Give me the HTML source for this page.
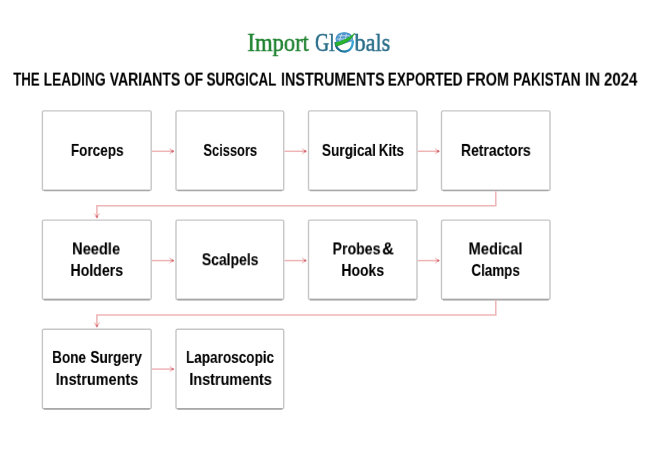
<!DOCTYPE html>
<html><head><meta charset="utf-8">
<style>
html,body{margin:0;padding:0;background:#fff;width:650px;height:450px;overflow:hidden}
body{position:relative;font-family:"Liberation Sans",sans-serif}
svg{position:absolute;left:0;top:0}
.t{position:absolute;left:0;top:0;white-space:nowrap;transform-origin:0 0;will-change:transform}
</style></head><body>
<svg width="650" height="450" viewBox="0 0 650 450">
<rect x="42.4" y="110.9" width="108.80" height="79.50" rx="1.5" fill="#fff" stroke="#c6c6c6" stroke-width="1.4"/>
<path d="M43.90 190.50 H149.70" fill="none" stroke="#a8a8a8" stroke-width="1.7"/>
<rect x="176.0" y="110.9" width="107.70" height="79.50" rx="1.5" fill="#fff" stroke="#c6c6c6" stroke-width="1.4"/>
<path d="M177.50 190.50 H282.20" fill="none" stroke="#a8a8a8" stroke-width="1.7"/>
<rect x="308.5" y="110.9" width="108.50" height="79.50" rx="1.5" fill="#fff" stroke="#c6c6c6" stroke-width="1.4"/>
<path d="M310.00 190.50 H415.50" fill="none" stroke="#a8a8a8" stroke-width="1.7"/>
<rect x="441.5" y="110.9" width="108.50" height="79.50" rx="1.5" fill="#fff" stroke="#c6c6c6" stroke-width="1.4"/>
<path d="M443.00 190.50 H548.50" fill="none" stroke="#a8a8a8" stroke-width="1.7"/>
<rect x="42.4" y="220.1" width="108.80" height="79.40" rx="1.5" fill="#fff" stroke="#c6c6c6" stroke-width="1.4"/>
<path d="M43.90 299.60 H149.70" fill="none" stroke="#a8a8a8" stroke-width="1.7"/>
<rect x="176.0" y="220.1" width="107.70" height="79.40" rx="1.5" fill="#fff" stroke="#c6c6c6" stroke-width="1.4"/>
<path d="M177.50 299.60 H282.20" fill="none" stroke="#a8a8a8" stroke-width="1.7"/>
<rect x="308.5" y="220.1" width="108.50" height="79.40" rx="1.5" fill="#fff" stroke="#c6c6c6" stroke-width="1.4"/>
<path d="M310.00 299.60 H415.50" fill="none" stroke="#a8a8a8" stroke-width="1.7"/>
<rect x="441.5" y="220.1" width="108.50" height="79.40" rx="1.5" fill="#fff" stroke="#c6c6c6" stroke-width="1.4"/>
<path d="M443.00 299.60 H548.50" fill="none" stroke="#a8a8a8" stroke-width="1.7"/>
<rect x="42.4" y="329.2" width="108.80" height="79.50" rx="1.5" fill="#fff" stroke="#c6c6c6" stroke-width="1.4"/>
<path d="M43.90 408.80 H149.70" fill="none" stroke="#a8a8a8" stroke-width="1.7"/>
<rect x="176.0" y="329.2" width="107.70" height="79.50" rx="1.5" fill="#fff" stroke="#c6c6c6" stroke-width="1.4"/>
<path d="M177.50 408.80 H282.20" fill="none" stroke="#a8a8a8" stroke-width="1.7"/>
</svg>
<svg width="650" height="450" viewBox="0 0 650 450">
<path d="M152.00 151.30 H173.40" stroke="#efb4b6" stroke-width="1.5" fill="none"/>
<path d="M169.20 147.80 L174.40 151.30 L169.20 154.80 L170.60 151.30 Z" fill="#f2c2c4"/>
<circle cx="172.60" cy="151.30" r="1.2" fill="#d87078"/>
<path d="M284.50 151.30 H305.90" stroke="#efb4b6" stroke-width="1.5" fill="none"/>
<path d="M301.70 147.80 L306.90 151.30 L301.70 154.80 L303.10 151.30 Z" fill="#f2c2c4"/>
<circle cx="305.10" cy="151.30" r="1.2" fill="#d87078"/>
<path d="M417.80 151.30 H438.90" stroke="#efb4b6" stroke-width="1.5" fill="none"/>
<path d="M434.70 147.80 L439.90 151.30 L434.70 154.80 L436.10 151.30 Z" fill="#f2c2c4"/>
<circle cx="438.10" cy="151.30" r="1.2" fill="#d87078"/>
<path d="M152.00 260.60 H173.40" stroke="#efb4b6" stroke-width="1.5" fill="none"/>
<path d="M169.20 257.10 L174.40 260.60 L169.20 264.10 L170.60 260.60 Z" fill="#f2c2c4"/>
<circle cx="172.60" cy="260.60" r="1.2" fill="#d87078"/>
<path d="M284.50 260.60 H305.90" stroke="#efb4b6" stroke-width="1.5" fill="none"/>
<path d="M301.70 257.10 L306.90 260.60 L301.70 264.10 L303.10 260.60 Z" fill="#f2c2c4"/>
<circle cx="305.10" cy="260.60" r="1.2" fill="#d87078"/>
<path d="M417.80 260.60 H438.90" stroke="#efb4b6" stroke-width="1.5" fill="none"/>
<path d="M434.70 257.10 L439.90 260.60 L434.70 264.10 L436.10 260.60 Z" fill="#f2c2c4"/>
<circle cx="438.10" cy="260.60" r="1.2" fill="#d87078"/>
<path d="M152.00 369.10 H173.40" stroke="#efb4b6" stroke-width="1.5" fill="none"/>
<path d="M169.20 365.60 L174.40 369.10 L169.20 372.60 L170.60 369.10 Z" fill="#f2c2c4"/>
<circle cx="172.60" cy="369.10" r="1.2" fill="#d87078"/>
<path d="M495.8 191.20 V205.8 H96.9 V218.30" stroke="#efb4b6" stroke-width="1.5" fill="none"/>
<path d="M93.40 213.10 L96.9 218.30 L100.40 213.10 L96.90 214.50 Z" fill="#f2c2c4"/>
<circle cx="96.9" cy="216.50" r="1.2" fill="#d87078"/>
<path d="M495.8 300.30 V314.9 H96.9 V327.40" stroke="#efb4b6" stroke-width="1.5" fill="none"/>
<path d="M93.40 322.20 L96.9 327.40 L100.40 322.20 L96.90 323.60 Z" fill="#f2c2c4"/>
<circle cx="96.9" cy="325.60" r="1.2" fill="#d87078"/>
</svg>
<svg width="650" height="450" viewBox="0 0 650 450">
  <defs><linearGradient id="rg" x1="0" y1="0" x2="1" y2="0"><stop offset="0" stop-color="#1b6688"/><stop offset="0.55" stop-color="#1f7aa0"/><stop offset="1" stop-color="#3aa8dc"/></linearGradient></defs>
  <path d="M335.8 43 C335.5 36 339 32.6 344.3 32.6 C349.6 32.6 352.8 36 352.8 41 L336.5 46 Z" fill="#5598cc"/>
  <g stroke="#e4f0fa" stroke-width="0.7" fill="none">
    <path d="M338.5 35.8 H350"/><path d="M336.8 39 H352.3"/>
    <path d="M342 33.2 Q339.3 38 339.6 44"/><path d="M346.6 33.2 Q345.6 37 345.2 41.5"/>
  </g>
  <path d="M335.9 39.5 C336.5 35 339.5 32.8 344.3 32.8 C349 32.8 352 35.3 352.7 39.5" fill="none" stroke="#4a96cc" stroke-width="1.3"/>
  <path d="M335.7 42 C335.5 48 339.3 51.6 344.3 51.6 C349.3 51.6 352.9 48 352.9 40.5" fill="none" stroke="url(#rg)" stroke-width="2.3"/>
  <path d="M335.2 42.5 C341 41 348 38.5 354.5 32.9 C352.6 38.3 347 43.6 335.6 46.1 Z" fill="#2bb52a"/>
  <path d="M335.6 46.1 C347 43.6 352.6 38.3 354.5 32.9" fill="none" stroke="#178f1a" stroke-width="0.6"/>
</svg>
<div class="t" style="font-family:'Liberation Serif',serif;font-size:26px;line-height:30px;color:#1f8230;-webkit-text-stroke:0.5px #1f8230;transform:translate(247.43px,27.90px) scaleX(0.8671)">Import</div>
<div class="t" style="font-family:'Liberation Serif',serif;font-size:26px;line-height:30px;color:#286c88;-webkit-text-stroke:0.5px #286c88;transform:translate(314.94px,27.90px) scaleX(0.7560)">Gl</div>
<div class="t" style="font-family:'Liberation Serif',serif;font-size:26px;line-height:30px;color:#286c88;-webkit-text-stroke:0.5px #286c88;transform:translate(354.50px,27.90px) scaleX(0.8537)">bals</div>
<div class="t" style="font-family:'Liberation Sans',sans-serif;font-weight:bold;font-size:18px;line-height:20px;color:#000;-webkit-text-stroke:0.05px #000;transform:translate(13.30px,69.60px) scaleX(0.7286)">THE</div>
<div class="t" style="font-family:'Liberation Sans',sans-serif;font-weight:bold;font-size:18px;line-height:20px;color:#000;-webkit-text-stroke:0.05px #000;transform:translate(43.64px,69.60px) scaleX(0.7646)">LEADING</div>
<div class="t" style="font-family:'Liberation Sans',sans-serif;font-weight:bold;font-size:18px;line-height:20px;color:#000;-webkit-text-stroke:0.05px #000;transform:translate(109.70px,69.60px) scaleX(0.7767)">VARIANTS</div>
<div class="t" style="font-family:'Liberation Sans',sans-serif;font-weight:bold;font-size:18px;line-height:20px;color:#000;-webkit-text-stroke:0.05px #000;transform:translate(184.03px,69.60px) scaleX(0.7652)">OF</div>
<div class="t" style="font-family:'Liberation Sans',sans-serif;font-weight:bold;font-size:18px;line-height:20px;color:#000;-webkit-text-stroke:0.05px #000;transform:translate(206.56px,69.60px) scaleX(0.7419)">SURGICAL</div>
<div class="t" style="font-family:'Liberation Sans',sans-serif;font-weight:bold;font-size:18px;line-height:20px;color:#000;-webkit-text-stroke:0.05px #000;transform:translate(281.00px,69.60px) scaleX(0.7969)">INSTRUMENTS</div>
<div class="t" style="font-family:'Liberation Sans',sans-serif;font-weight:bold;font-size:18px;line-height:20px;color:#000;-webkit-text-stroke:0.05px #000;transform:translate(387.75px,69.60px) scaleX(0.7546)">EXPORTED</div>
<div class="t" style="font-family:'Liberation Sans',sans-serif;font-weight:bold;font-size:18px;line-height:20px;color:#000;-webkit-text-stroke:0.05px #000;transform:translate(466.40px,69.60px) scaleX(0.8039)">FROM</div>
<div class="t" style="font-family:'Liberation Sans',sans-serif;font-weight:bold;font-size:18px;line-height:20px;color:#000;-webkit-text-stroke:0.05px #000;transform:translate(513.04px,69.60px) scaleX(0.7563)">PAKISTAN</div>
<div class="t" style="font-family:'Liberation Sans',sans-serif;font-weight:bold;font-size:18px;line-height:20px;color:#000;-webkit-text-stroke:0.05px #000;transform:translate(584.96px,69.60px) scaleX(0.8438)">IN</div>
<div class="t" style="font-family:'Liberation Sans',sans-serif;font-weight:bold;font-size:18px;line-height:20px;color:#000;-webkit-text-stroke:0.05px #000;transform:translate(603.97px,69.60px) scaleX(0.8333)">2024</div>
<div class="t" style="font-family:'Liberation Sans',sans-serif;font-weight:bold;font-size:16.5px;line-height:20px;color:#000;-webkit-text-stroke:0.08px #000;transform:translate(70.88px,139.90px) scaleX(0.8206)">Forceps</div>
<div class="t" style="font-family:'Liberation Sans',sans-serif;font-weight:bold;font-size:16.5px;line-height:20px;color:#000;-webkit-text-stroke:0.08px #000;transform:translate(203.42px,139.90px) scaleX(0.7806)">Scissors</div>
<div class="t" style="font-family:'Liberation Sans',sans-serif;font-weight:bold;font-size:16.5px;line-height:20px;color:#000;-webkit-text-stroke:0.08px #000;transform:translate(321.87px,139.90px) scaleX(0.8302)">Surgical</div>
<div class="t" style="font-family:'Liberation Sans',sans-serif;font-weight:bold;font-size:16.5px;line-height:20px;color:#000;-webkit-text-stroke:0.08px #000;transform:translate(378.79px,139.90px) scaleX(0.8067)">Kits</div>
<div class="t" style="font-family:'Liberation Sans',sans-serif;font-weight:bold;font-size:16.5px;line-height:20px;color:#000;-webkit-text-stroke:0.08px #000;transform:translate(460.95px,139.90px) scaleX(0.8457)">Retractors</div>
<div class="t" style="font-family:'Liberation Sans',sans-serif;font-weight:bold;font-size:16.5px;line-height:20px;color:#000;-webkit-text-stroke:0.08px #000;transform:translate(72.01px,238.40px) scaleX(0.8887)">Needle</div>
<div class="t" style="font-family:'Liberation Sans',sans-serif;font-weight:bold;font-size:16.5px;line-height:20px;color:#000;-webkit-text-stroke:0.08px #000;transform:translate(70.44px,259.90px) scaleX(0.8567)">Holders</div>
<div class="t" style="font-family:'Liberation Sans',sans-serif;font-weight:bold;font-size:16.5px;line-height:20px;color:#000;-webkit-text-stroke:0.08px #000;transform:translate(201.86px,249.20px) scaleX(0.8446)">Scalpels</div>
<div class="t" style="font-family:'Liberation Sans',sans-serif;font-weight:bold;font-size:16.5px;line-height:20px;color:#000;-webkit-text-stroke:0.08px #000;transform:translate(332.54px,238.40px) scaleX(0.8574)">Probes</div>
<div class="t" style="font-family:'Liberation Sans',sans-serif;font-weight:bold;font-size:16.5px;line-height:20px;color:#000;-webkit-text-stroke:0.08px #000;transform:translate(382.12px,238.40px) scaleX(0.9800)">&amp;</div>
<div class="t" style="font-family:'Liberation Sans',sans-serif;font-weight:bold;font-size:16.5px;line-height:20px;color:#000;-webkit-text-stroke:0.08px #000;transform:translate(341.35px,259.90px) scaleX(0.8469)">Hooks</div>
<div class="t" style="font-family:'Liberation Sans',sans-serif;font-weight:bold;font-size:16.5px;line-height:20px;color:#000;-webkit-text-stroke:0.08px #000;transform:translate(468.51px,238.40px) scaleX(0.8915)">Medical</div>
<div class="t" style="font-family:'Liberation Sans',sans-serif;font-weight:bold;font-size:16.5px;line-height:20px;color:#000;-webkit-text-stroke:0.08px #000;transform:translate(471.39px,259.90px) scaleX(0.8121)">Clamps</div>
<div class="t" style="font-family:'Liberation Sans',sans-serif;font-weight:bold;font-size:16.5px;line-height:20px;color:#000;-webkit-text-stroke:0.08px #000;transform:translate(52.08px,346.90px) scaleX(0.8225)">Bone</div>
<div class="t" style="font-family:'Liberation Sans',sans-serif;font-weight:bold;font-size:16.5px;line-height:20px;color:#000;-webkit-text-stroke:0.08px #000;transform:translate(90.38px,346.90px) scaleX(0.8246)">Surgery</div>
<div class="t" style="font-family:'Liberation Sans',sans-serif;font-weight:bold;font-size:16.5px;line-height:20px;color:#000;-webkit-text-stroke:0.08px #000;transform:translate(55.73px,368.90px) scaleX(0.8731)">Instruments</div>
<div class="t" style="font-family:'Liberation Sans',sans-serif;font-weight:bold;font-size:16.5px;line-height:20px;color:#000;-webkit-text-stroke:0.08px #000;transform:translate(185.98px,346.90px) scaleX(0.8217)">Laparoscopic</div>
<div class="t" style="font-family:'Liberation Sans',sans-serif;font-weight:bold;font-size:16.5px;line-height:20px;color:#000;-webkit-text-stroke:0.08px #000;transform:translate(189.33px,368.90px) scaleX(0.8731)">Instruments</div>
</body></html>
